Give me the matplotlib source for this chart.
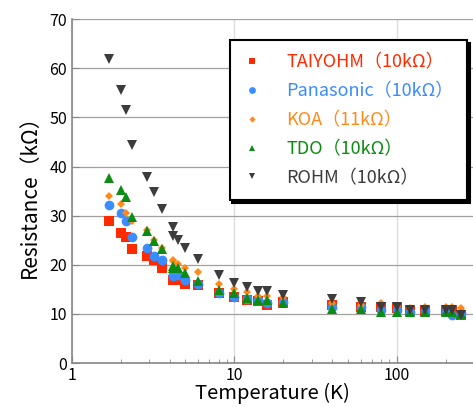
import numpy as np
import matplotlib
matplotlib.use("Agg")
from matplotlib import pyplot as plt
from matplotlib.ticker import LogLocator, FixedLocator, NullFormatter

plt.rcParams["font.family"] = ["Noto Sans CJK JP", "DejaVu Sans"]

# ── data ─────────────────────────────────────────────────────────────────────
temps = [1.7, 2.0, 2.15, 2.35, 2.9, 3.2, 3.6, 4.2, 4.2, 4.5, 5.0, 6.0,
         8, 10, 12, 14, 16, 20, 40, 60, 80, 100, 120, 150, 200, 220, 250]

taiyohm   = [28.9, 26.5, 25.6, 23.2, 21.7, 21.0, 19.3, 17.0, 16.9, 16.9, 16.0, 15.9,
             14.3, 13.4, 12.8, 12.6, 11.8, 12.5, 11.8, 11.5, 11.4, 11.2, 10.5, 10.5, 10.5, 10.6, 9.7]
panasonic = [32.2, 30.6, 28.9, 25.7, 23.4, 21.7, 21.0, 17.8, 17.9, 17.9, 16.9, 16.0,
             14.2, 13.5, 13.0, 12.8, 12.2, 12.5, 11.5, 11.5, 10.8, 10.7, 10.4, 10.5, 10.5, 9.8, 10.1]
koa       = [33.9, 32.3, 30.6, 28.9, 27.0, 25.0, 23.4, 21.0, 20.8, 20.2, 19.4, 18.5,
             16.1, 15.1, 14.5, 13.7, 13.7, 13.5, 12.2, 11.8, 12.2, 11.6, 11.3, 11.5, 11.5, 11.5, 11.3]
tdo       = [37.6, 35.2, 33.7, 29.7, 26.9, 24.9, 23.2, 19.8, 19.4, 19.3, 18.4, 16.6,
             14.9, 14.3, 13.3, 12.8, 12.8, 12.2, 11.1, 11.1, 10.3, 10.4, 10.3, 10.3, 10.3, 10.3, 9.9]
rohm      = [61.9, 55.6, 51.5, 44.3, 37.9, 34.8, 31.4, 27.6, 25.9, 25.1, 23.4, 21.1,
             17.9, 16.3, 15.5, 14.6, 14.6, 13.8, 13.1, 12.4, 11.5, 11.5, 10.8, 10.8, 10.8, 10.8, 9.8]

labels = ["TAIYOHM（10kΩ）", "Panasonic（10kΩ）", "KOA（11kΩ）", "TDO（10kΩ）", "ROHM（10kΩ）"]
series = [taiyohm, panasonic, koa, tdo, rohm]
colors = ["#ff2a00", "#3a8cff", "#ff8a1a", "#0c8c14", "#3c3c3c"]
markers = ["s", "o", "D", "^", "v"]
sizes = [6.5, 7, 4.5, 7, 7]

fig = plt.figure(figsize=(4.73, 4.07), dpi=100)
ax = fig.add_axes([0.152, 0.108, 0.848, 0.845])

for y, lab, c, m, s in zip(series, labels, colors, markers, sizes):
    ax.plot(temps, y, linestyle="none", marker=m, color=c, markersize=s,
            markeredgewidth=0, label=lab)

ax.set_xscale("log")
ax.set_xlim(1, 295)
ax.set_ylim(0, 70)
ax.yaxis.set_major_locator(FixedLocator(range(0, 71, 10)))
ax.xaxis.set_major_locator(FixedLocator([1, 10, 100]))
ax.xaxis.set_major_formatter(matplotlib.ticker.FixedFormatter(["1", "10", "100"]))
ax.xaxis.set_minor_locator(LogLocator(base=10, subs=np.arange(2, 10)))
ax.xaxis.set_minor_formatter(NullFormatter())

for sp in ["top", "right"]:
    ax.spines[sp].set_visible(False)
for sp in ["left", "bottom"]:
    ax.spines[sp].set_color("#888888")
    ax.spines[sp].set_linewidth(1.2)

ax.tick_params(axis="both", which="major", direction="in", length=5,
               color="#888888", labelsize=11.5)
ax.tick_params(axis="x", which="minor", direction="in", length=3, color="#888888")
ax.tick_params(axis="x", which="major", pad=3)

ax.grid(True, axis="y", color="#a0a0a0", linewidth=0.9)
ax.grid(True, axis="x", which="major", color="#dddddd", linewidth=1.0)
ax.set_axisbelow(True)

ax.set_xlabel("Temperature (K)", fontsize=14.5, labelpad=-1)
ax.set_ylabel("Resistance（kΩ）", fontsize=15, labelpad=6)

leg = ax.legend(loc="upper right", bbox_to_anchor=(0.995, 0.95), fontsize=13,
                markerscale=0.7, handlelength=1.0, handletextpad=1.4,
                labelspacing=0.6, borderpad=0.75, borderaxespad=0.2,
                frameon=True, fancybox=False,
                shadow={"color": "black", "alpha": 1.0}, framealpha=1.0)
leg.get_frame().set_edgecolor("black")
leg.get_frame().set_linewidth(1.5)
for txt, c in zip(leg.get_texts(), colors):
    txt.set_color(c)

fig.savefig("out.png", dpi=100)
